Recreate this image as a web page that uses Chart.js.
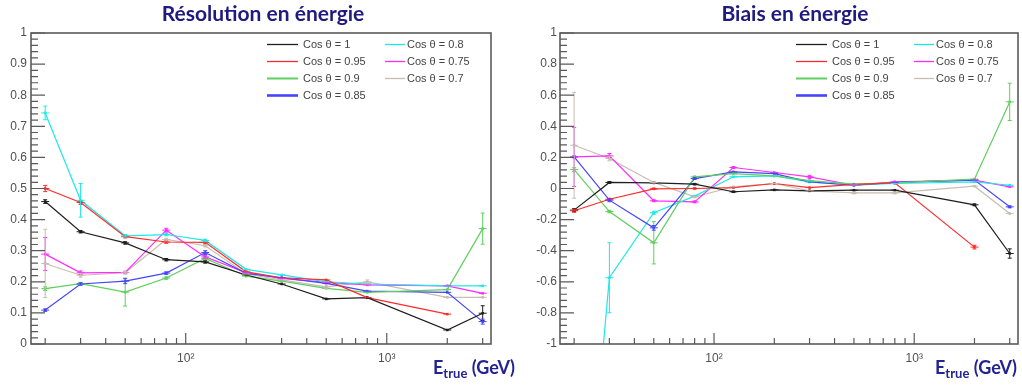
<!DOCTYPE html>
<html>
<head>
<meta charset="utf-8">
<script src="https://cdn.jsdelivr.net/npm/chart.js@4.4.1/dist/chart.umd.min.js"></script>
<style>
    body { margin: 0; width: 1022px; height: 385px; background: #fff; position: relative; overflow: hidden; }
    .panel { position: absolute; top: 0; width: 511px; height: 385px; }
    .panel canvas { position: absolute; left: 0; top: 0; }
    .title { position: absolute; top: 0; font: 700 21px Lato, sans-serif; color: #1f1a80; text-align: center; white-space: nowrap; }
    .xlabel { position: absolute; top: 356px; font: 700 18px Lato, sans-serif; color: #232391; white-space: nowrap; }
    .xlabel sub { font-size: 13px; vertical-align: -4px; }
</style>
</head>
<body>
<div class="panel" style="left:0"><canvas id="resolution-chart" width="511" height="385"></canvas></div>
<div class="panel" style="left:511px"><canvas id="bias-chart" width="511" height="385"></canvas></div>
<div class="title" style="left:0;width:526px">Résolution en énergie</div>
<div class="title" style="left:532px;width:526px">Biais en énergie</div>
<div class="xlabel" style="left:433px">E<sub>true</sub> (GeV)</div>
<div class="xlabel" style="left:935px">E<sub>true</sub> (GeV)</div>
<script>
// energies in GeV
const energies = [20, 30, 50, 80, 125, 200, 300, 500, 800, 2000, 3000];
const cosLabels = ["Cos θ = 1", "Cos θ = 0.95", "Cos θ = 0.9", "Cos θ = 0.85", "Cos θ = 0.8", "Cos θ = 0.75", "Cos θ = 0.7"];
const xTickLabels = { 100: "10²", 1000: "10³" };

// energy resolution
const resCos1   = [0.458, 0.361, 0.325, 0.271, 0.264, 0.222, 0.193, 0.145, 0.149, 0.045, 0.099];
const resCos095 = [0.500, 0.455, 0.345, 0.328, 0.327, 0.232, 0.213, 0.206, 0.149, 0.096, null];
const resCos09  = [0.178, 0.194, 0.167, 0.212, 0.275, 0.218, 0.202, 0.179, 0.166, 0.175, 0.371];
const resCos085 = [0.109, 0.193, 0.202, 0.228, 0.294, 0.227, 0.213, 0.195, 0.170, 0.166, 0.072];
const resCos08  = [0.743, 0.462, 0.348, 0.352, 0.333, 0.240, 0.222, 0.200, 0.193, 0.187, 0.187];
const resCos075 = [0.289, 0.229, 0.230, 0.366, 0.280, 0.229, 0.211, 0.198, 0.190, 0.187, 0.163];
const resCos07  = [0.259, 0.221, 0.229, 0.336, 0.316, 0.225, 0.206, 0.184, 0.200, 0.150, 0.150];

const resErrCos1   = [0.006, 0.004, 0.004, 0.004, 0.004, 0, 0, 0, 0, 0, 0.024];
const resErrCos095 = [0.010, 0.006, 0.004, 0.004, 0.004, 0, 0, 0, 0, 0, 0];
const resErrCos09  = [0.006, 0.004, 0.045, 0.004, 0.004, 0, 0, 0, 0, 0, 0.050];
const resErrCos085 = [0.004, 0.004, 0.008, 0.004, 0.006, 0, 0, 0, 0, 0, 0.008];
const resErrCos08  = [0.022, 0.054, 0.004, 0.004, 0.004, 0, 0, 0, 0, 0, 0];
const resErrCos075 = [0.053, 0.006, 0.004, 0.006, 0.004, 0, 0, 0, 0, 0, 0];
const resErrCos07  = [0.110, 0.006, 0.004, 0.004, 0.004, 0, 0, 0.006, 0.006, 0, 0];

// energy bias
const biasCos1   = [-0.139, 0.039, 0.036, 0.028, -0.021, -0.009, -0.015, -0.011, -0.011, -0.105, -0.418];
const biasCos095 = [-0.143, -0.069, -0.002, 0.000, 0.006, 0.032, 0.006, 0.026, 0.036, -0.377, null];
const biasCos09  = [0.122, -0.148, -0.349, 0.075, 0.096, 0.081, 0.051, 0.028, 0.036, 0.060, 0.557];
const biasCos085 = [0.203, -0.075, -0.253, 0.064, 0.107, 0.096, 0.043, 0.021, 0.039, 0.054, -0.118];
const biasCos08  = [-3.1, -0.574, -0.156, -0.049, 0.075, 0.081, 0.043, 0.021, 0.032, 0.043, 0.021];
const biasCos075 = [0.203, 0.210, -0.079, -0.086, 0.135, 0.103, 0.075, 0.021, 0.043, 0.054, 0.011];
const biasCos07  = [0.278, 0.193, 0.039, -0.054, 0.011, 0.032, -0.015, -0.028, -0.028, 0.015, -0.161];

const biasErrCos1   = [0.010, 0.006, 0.004, 0.004, 0.004, 0, 0, 0, 0, 0.006, 0.030];
const biasErrCos095 = [0.010, 0.006, 0.004, 0.004, 0, 0, 0, 0, 0, 0.012, 0];
const biasErrCos09  = [0.012, 0.008, 0.136, 0.004, 0, 0, 0, 0, 0, 0, 0.120];
const biasErrCos085 = [0.006, 0.010, 0.015, 0.006, 0, 0, 0, 0, 0, 0, 0.006];
const biasErrCos08  = [0, 0.225, 0.010, 0.004, 0, 0, 0, 0, 0, 0, 0];
const biasErrCos075 = [0.190, 0.015, 0.006, 0.006, 0.006, 0, 0.010, 0, 0, 0, 0];
const biasErrCos07  = [0.340, 0.015, 0.004, 0.004, 0, 0, 0, 0.006, 0.006, 0, 0];

const lineColors = ["#1e1e1e", "#ff2b2b", "#5fcf5f", "#4545ff", "#1fe8e8", "#ff2cff", "#c9bdb1"];
const legendWidths = [1.3, 1.3, 2, 2.6, 1.3, 1.3, 1.3];

Chart.defaults.font.family = '"Liberation Sans", Arial, sans-serif';

const rootFrame = {
    id: "rootFrame",
    afterDatasetsDraw(chart, args, opts) {
        const { ctx, chartArea: a, scales: { x, y } } = chart;
        ctx.save();
        ctx.beginPath();
        ctx.rect(a.left, a.top, a.right - a.left, a.bottom - a.top);
        ctx.clip();

        // error bars and bin markers
        chart.data.datasets.forEach((ds, i) => {
            const meta = chart.getDatasetMeta(i);
            ctx.strokeStyle = ds.borderColor;
            ctx.lineWidth = 1;
            ctx.beginPath();
            meta.data.forEach((pt, j) => {
                const v = ds.data[j].y;
                if (v === null || pt.skip) return;
                ctx.moveTo(pt.x - 4, pt.y);
                ctx.lineTo(pt.x + 4, pt.y);
                const err = ds.errors[j];
                if (err) {
                    const top = y.getPixelForValue(v + err);
                    const bottom = y.getPixelForValue(v - err);
                    ctx.moveTo(pt.x, top); ctx.lineTo(pt.x, bottom);
                    ctx.moveTo(pt.x - 2, top); ctx.lineTo(pt.x + 2, top);
                    ctx.moveTo(pt.x - 2, bottom); ctx.lineTo(pt.x + 2, bottom);
                }
            });
            ctx.stroke();
        });
        ctx.restore();

        // frame and inner ticks
        ctx.save();
        ctx.strokeStyle = "#5a5a5a";
        ctx.lineWidth = 1.6;
        ctx.strokeRect(a.left, a.top, a.right - a.left, a.bottom - a.top);
        ctx.lineWidth = 1.2;
        ctx.beginPath();
        const steps = Math.round((y.max - y.min) / opts.minorStep);
        for (let k = 0; k <= steps; k++) {
            const py = y.getPixelForValue(y.min + k * opts.minorStep);
            const len = k % opts.minorPerMajor === 0 ? 14 : 7;
            ctx.moveTo(a.left, py);
            ctx.lineTo(a.left + len, py);
        }
        for (let decade = 10; decade <= 1000; decade *= 10) {
            for (let m = 1; m <= 9; m++) {
                const value = m * decade;
                if (value < x.min || value > x.max) continue;
                const px = x.getPixelForValue(value);
                ctx.moveTo(px, a.bottom);
                ctx.lineTo(px, a.bottom - (m === 1 ? 11 : 6));
            }
        }
        ctx.stroke();

        // legend, two columns
        ctx.font = '11px "Liberation Sans", Arial, sans-serif';
        ctx.fillStyle = "#444";
        ctx.textBaseline = "middle";
        chart.data.datasets.forEach((ds, i) => {
            const col = i < 4 ? 0 : 1;
            const row = i < 4 ? i : i - 4;
            const lineX = a.left + (col === 0 ? 236 : 354);
            const lineLen = col === 0 ? 31 : 20;
            const rowY = a.top + 11.5 + row * 17;
            ctx.strokeStyle = ds.borderColor;
            ctx.lineWidth = legendWidths[i];
            ctx.beginPath();
            ctx.moveTo(lineX, rowY);
            ctx.lineTo(lineX + lineLen, rowY);
            ctx.stroke();
            ctx.fillText(ds.label, lineX + (col === 0 ? 36 : 22), rowY);
        });
        ctx.restore();
    }
};

function makeDatasets(series, errors) {
    return series.map((values, i) => ({
        label: cosLabels[i],
        data: energies.map((e, j) => ({ x: e, y: values[j] })),
        errors: errors[i],
        borderColor: lineColors[i],
        backgroundColor: lineColors[i],
        borderWidth: 1.2,
        pointStyle: "rect",
        pointRadius: 1.8,
        pointBorderWidth: 0,
        tension: 0
    }));
}

function makeChart(canvasId, series, errors, yRange) {
    return new Chart(document.getElementById(canvasId), {
        type: "line",
        data: { datasets: makeDatasets(series, errors) },
        plugins: [rootFrame],
        options: {
            responsive: false,
            animation: false,
            layout: { padding: { top: 33, right: yRange.padRight, left: 0, bottom: 0 } },
            plugins: {
                legend: { display: false },
                tooltip: { enabled: false },
                rootFrame: { minorStep: yRange.minorStep, minorPerMajor: yRange.minorPerMajor }
            },
            scales: {
                x: {
                    type: "logarithmic",
                    min: 17,
                    max: 3300,
                    afterFit: (scale) => { scale.height = 41; },
                    afterBuildTicks: (scale) => { scale.ticks = Object.keys(xTickLabels).map((v) => ({ value: Number(v) })); },
                    ticks: { callback: (value) => xTickLabels[value] || "", color: "#505050", font: { size: 12 }, padding: 7, maxRotation: 0, autoSkip: false },
                    grid: { display: false, drawTicks: false },
                    border: { display: false }
                },
                y: {
                    min: yRange.min,
                    max: yRange.max,
                    afterFit: (scale) => { scale.width = yRange.axisWidth; },
                    ticks: { stepSize: yRange.step, callback: (value) => String(Number(value.toFixed(2))), color: "#505050", font: { size: 12 }, padding: yRange.labelPad },
                    grid: { display: false, drawTicks: false },
                    border: { display: false }
                }
            }
        }
    });
}

makeChart("resolution-chart",
    [resCos1, resCos095, resCos09, resCos085, resCos08, resCos075, resCos07],
    [resErrCos1, resErrCos095, resErrCos09, resErrCos085, resErrCos08, resErrCos075, resErrCos07],
    { min: 0, max: 1, step: 0.1, minorStep: 0.02, minorPerMajor: 5, axisWidth: 31, padRight: 20, labelPad: 4 });

makeChart("bias-chart",
    [biasCos1, biasCos095, biasCos09, biasCos085, biasCos08, biasCos075, biasCos07],
    [biasErrCos1, biasErrCos095, biasErrCos09, biasErrCos085, biasErrCos08, biasErrCos075, biasErrCos07],
    { min: -1, max: 1, step: 0.2, minorStep: 0.04, minorPerMajor: 5, axisWidth: 49, padRight: 3, labelPad: 3 });
</script>
</body>
</html>
